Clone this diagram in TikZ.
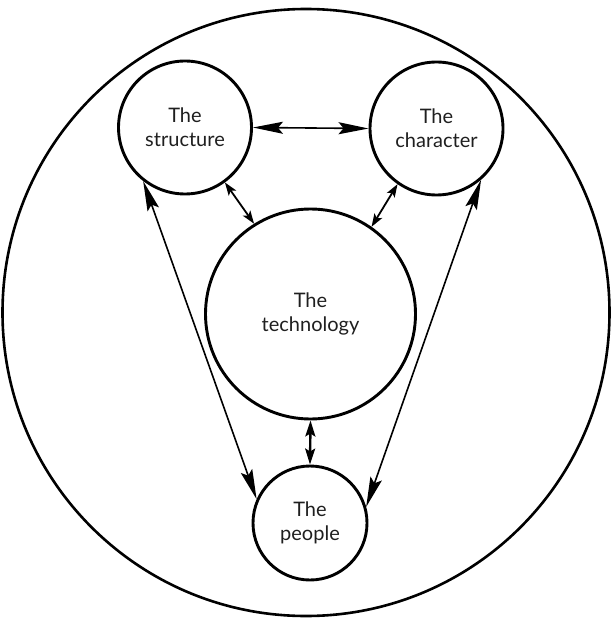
\documentclass[tikz,border=0pt]{standalone}
\usepackage{fontspec}
\setmainfont{Lato}
\usetikzlibrary{arrows.meta}
\begin{document}
\begin{tikzpicture}[x=1pt,y=-1pt,
  circ/.style={draw, circle, line width=2.9pt, inner sep=0pt, align=center,
    font=\fontsize{20}{24}\selectfont, text=black!88},
  bigarr/.style={line width=1.6pt,
    {Stealth[length=30pt,width=12pt,inset=5pt]}-{Stealth[length=30pt,width=12pt,inset=5pt]}},
  smallarr/.style={line width=1.8pt,
    {Stealth[length=13pt,width=9pt,inset=3pt]}-{Stealth[length=13pt,width=9pt,inset=3pt]}},
  midarr/.style={line width=2.4pt,
    {Stealth[length=16pt,width=10pt,inset=3pt]}-{Stealth[length=16pt,width=10pt,inset=3pt]}}]
\useasboundingbox (0,0) rectangle (610,620);
\node[draw, circle, line width=2.6pt, inner sep=0pt, minimum size=607pt] (outer) at (306,312.5) {};
\node[circ, minimum size=133pt] (structure) at (185,127.5) {The\\structure};
\node[circ, minimum size=133pt] (character) at (436.5,128.5) {The\\character};
\node[circ, minimum size=210pt] (technology) at (310.5,314) {The\\technology};
\node[circ, minimum size=114pt] (people) at (310,523) {The\\people};
\draw[bigarr] (structure.east) -- (character.west);
\draw[smallarr] (structure.306) -- (technology.122.7);
\draw[smallarr] (character.235) -- (technology.55.4);
\draw[midarr] (technology.south) -- (people.north);
\draw[bigarr] (structure.232) -- (people.156);
\draw[bigarr] (character.311) -- (people.16.8);
\end{tikzpicture}
\end{document}
